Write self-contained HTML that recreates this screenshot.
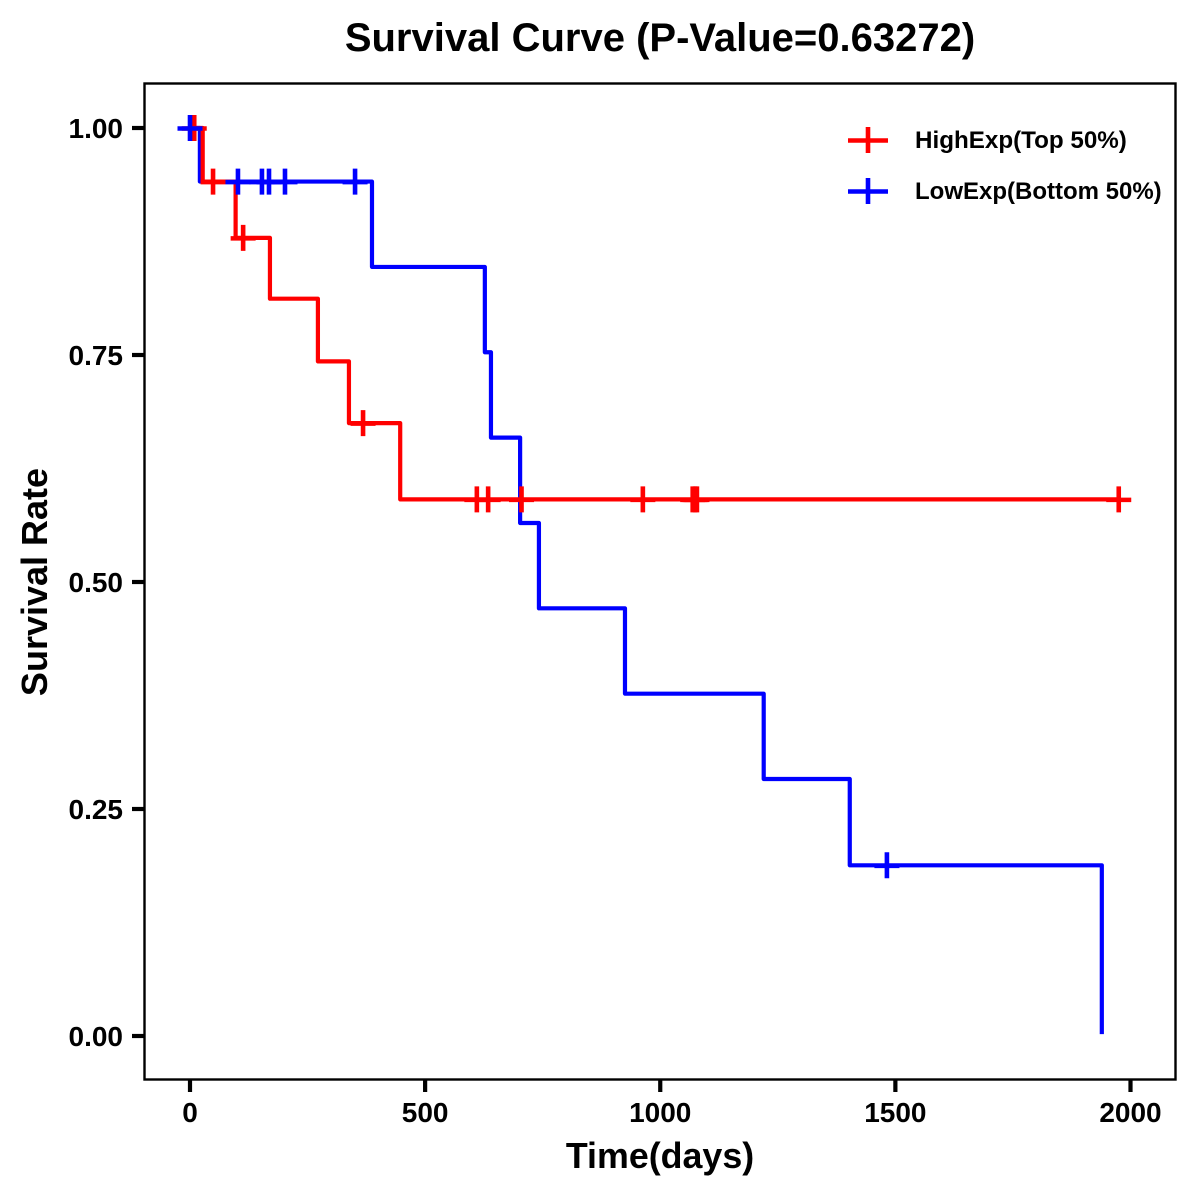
<!DOCTYPE html>
<html>
<head>
<meta charset="utf-8">
<title>Survival Curve</title>
<style>
html,body{margin:0;padding:0;background:#fff;width:1200px;height:1200px;overflow:hidden}
svg{display:block}
text{font-family:"Liberation Sans",Arial,sans-serif;font-weight:bold;fill:#000}
</style>
</head>
<body>
<svg id="chart" width="1200" height="1200" viewBox="0 0 1200 1200" xmlns="http://www.w3.org/2000/svg">
  <rect x="0" y="0" width="1200" height="1200" fill="#fff"/>
  <text x="660" y="51" font-size="40" text-anchor="middle">Survival Curve (P-Value=0.63272)</text>
  <text x="660" y="1168" font-size="35.8" text-anchor="middle">Time(days)</text>
  <text transform="translate(47 582) rotate(-90)" font-size="36" text-anchor="middle">Survival Rate</text>
  <g id="ticks"></g>
  <g id="series"></g>
  <rect x="144.5" y="83.5" width="1031" height="996" fill="none" stroke="#000" stroke-width="2.4"/>
  <g>
    <g>
      <path d="M848 140.5H888M868 127V153" stroke="#ff0000" stroke-width="4.6" fill="none"/>
      <text x="915" y="148" font-size="24.2">HighExp(Top 50%)</text>
    </g>
    <g>
      <path d="M848 191.5H888M868 178V204" stroke="#0000ff" stroke-width="4.6" fill="none"/>
      <text x="915" y="199" font-size="24">LowExp(Bottom 50%)</text>
    </g>
  </g>
</svg>
<script>
var xTicks = [0, 500, 1000, 1500, 2000];
var yTicks = [0, 0.25, 0.5, 0.75, 1];
var yTickLabels = ["0.00", "0.25", "0.50", "0.75", "1.00"];

var highTimes = [0, 27, 97, 170, 272, 338, 447, 1975];
var highSurvival = [1, 0.941, 0.879, 0.812, 0.743, 0.675, 0.591, 0.591];
var highCensored = [9, 49, 113, 368, 610, 634, 705, 963, 1069, 1074, 1078, 1975];

var lowTimes = [0, 21, 387, 627, 640, 702, 742, 925, 1220, 1403, 1939];
var lowSurvival = [1, 0.941, 0.847, 0.753, 0.659, 0.565, 0.471, 0.377, 0.283, 0.188, 0.002];
var lowCensored = [0, 102, 153, 168, 202, 351, 1482];

function xScale(t) { return 190 + t * (1130.5 - 190) / 2000; }
function yScale(s) { return 1036 - s * (1036 - 128); }

var NS = "http://www.w3.org/2000/svg";
var ticksGroup = document.getElementById("ticks");
var seriesGroup = document.getElementById("series");

function make(tag, attrs, parent) {
  var el = document.createElementNS(NS, tag);
  for (var k in attrs) { el.setAttribute(k, attrs[k]); }
  parent.appendChild(el);
  return el;
}

xTicks.forEach(function (v) {
  var x = xScale(v);
  var tick = make("line", {x1: x, x2: x, y1: 1080, y2: 1092, stroke: "#000", "stroke-width": 4.2}, ticksGroup);
  
  
  var label = make("text", {x: x, y: 1122, "font-size": 28, "text-anchor": "middle"}, ticksGroup);
  
  
  label.textContent = String(v);
});

yTicks.forEach(function (v, i) {
  var y = yScale(v);
  var tick = make("line", {x1: 132, x2: 144, y1: y, y2: y, stroke: "#000", "stroke-width": 4.2}, ticksGroup);
  
  
  var label = make("text", {x: 123, y: y + 10, "font-size": 28, "text-anchor": "end"}, ticksGroup);
  
  
  label.textContent = yTickLabels[i];
});

function survivalAt(times, surv, t) {
  var s = surv[0];
  for (var i = 0; i < times.length; i++) {
    if (times[i] <= t) { s = surv[i]; }
  }
  return s;
}

function stepPath(times, surv) {
  var d = "M" + xScale(times[0]) + " " + yScale(surv[0]);
  for (var i = 1; i < times.length; i++) {
    d += "H" + xScale(times[i]) + "V" + yScale(surv[i]);
  }
  return d;
}

function drawLine(times, surv, color, name) {
  var path = make("path", {d: stepPath(times, surv), fill: "none", stroke: color, "stroke-width": 4.2, "stroke-linejoin": "round"}, seriesGroup);
  
  
}

function drawCensors(censored, times, surv, color, name) {
  censored.forEach(function (t) {
    var cx = xScale(t);
    var cy = yScale(survivalAt(times, surv, t));
    var d = "M" + (cx - 12.5) + " " + (cy + 0.5) + "H" + (cx + 12.5) + "M" + cx + " " + (cy - 13) + "V" + (cy + 13);
    var mark = make("path", {d: d, fill: "none", stroke: color, "stroke-width": 4.6}, seriesGroup);
    
    
  });
}

drawLine(lowTimes, lowSurvival, "#0000ff", "low-exp-curve");
drawLine(highTimes, highSurvival, "#ff0000", "high-exp-curve");
drawCensors(highCensored, highTimes, highSurvival, "#ff0000", "high-exp-censor-mark");
drawCensors(lowCensored, lowTimes, lowSurvival, "#0000ff", "low-exp-censor-mark");
</script>
</body>
</html>
